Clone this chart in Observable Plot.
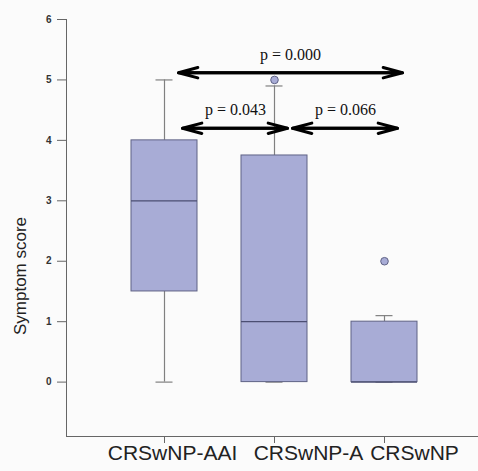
<!DOCTYPE html>
<html><head><meta charset="utf-8">
<script src="https://cdn.jsdelivr.net/npm/d3@7"></script>
<script src="https://cdn.jsdelivr.net/npm/@observablehq/plot@0.6"></script>
<style>
html,body{margin:0;padding:0;background:#fbfbfb;}
#chart svg{display:block;background:#fbfbfb;}
</style>
</head><body><div id="chart"></div>
<script>
// Categories and box-plot summaries
const groups = ["CRSwNP-AAI", "CRSwNP-A", "CRSwNP"];
const lowerWhisker = [0, 0, 0];
const q1 = [1.5, 0, 0];
const median = [3, 1, 0];
const q3 = [4, 3.75, 1];
const upperWhisker = [5, 4.9, 1.1];
// Outliers
const outlierGroup = ["CRSwNP-A", "CRSwNP"];
const outlierValue = [5, 2];
// Pairwise comparisons
const compFrom = ["CRSwNP-AAI", "CRSwNP-AAI", "CRSwNP-A"];
const compTo = ["CRSwNP", "CRSwNP-A", "CRSwNP"];
const compLabel = ["p = 0.000", "p = 0.043", "p = 0.066"];
const compLevel = [5.12, 4.2, 4.2];
// Axis
const yTicks = [0, 1, 2, 3, 4, 5, 6];
const yLabel = "Symptom score";

const boxes = groups.map((g, i) => ({group: g, lo: lowerWhisker[i], q1: q1[i], med: median[i], q3: q3[i], hi: upperWhisker[i]}));
const outliers = outlierGroup.map((g, i) => ({group: g, value: outlierValue[i]}));
const comps = compFrom.map((f, i) => ({from: f, to: compTo[i], label: compLabel[i], level: compLevel[i], span: groups.indexOf(compTo[i]) - groups.indexOf(f)}));

const fillC = "#a8acd6";
const edgeC = "#5f6285";
const whiskC = "#808080";
const step = 110;
const shift = 16;
const capInset = 24.5;
const catLabelShift = [8, 34, 30]; // category labels sit right of their ticks in the original
const sans = "Liberation Sans, Arial, sans-serif";

const longC = comps.filter(c => c.span === 2);
const shortC = comps.filter(c => c.span === 1);
const arrowOpts = {y: "level", stroke: "black", strokeWidth: 3, headLength: 10, headAngle: 30, dx: shift};

const chart = Plot.plot({
  width: 478,
  height: 471,
  marginLeft: 66,
  marginRight: 0,
  marginTop: 19,
  marginBottom: 35,
  style: {background: "#fbfbfb"},
  x: {type: "band", domain: groups, range: [109.3, 439.3], paddingInner: 0.4, paddingOuter: 0.2, label: null},
  y: {domain: [-0.9, 6], label: null},
  marks: [
    Plot.ruleY([-0.9], {stroke: "#666", strokeWidth: 1}),
    Plot.frame({anchor: "left", stroke: "#666"}),
    Plot.axisY({ticks: yTicks, tickFormat: "d", tickSize: 9, tickPadding: 6, fontSize: 10, fontWeight: "bold", fill: "#333", stroke: "#666", label: null, fontFamily: sans}),
    Plot.axisX({tickSize: 7, tickFormat: () => "", stroke: "#666", label: null}),
    ...groups.map((g, i) => Plot.text([g], {x: d => d, text: d => d, frameAnchor: "bottom", lineAnchor: "top", dy: 9, dx: catLabelShift[i], fontSize: 21, fill: "#222", fontFamily: sans})),
    Plot.text([yLabel], {frameAnchor: "left", textAnchor: "middle", rotate: -90, dx: -46, dy: 48, fontSize: 17, fill: "#222", fontFamily: sans}),
    // whiskers
    Plot.ruleX(boxes, {x: "group", y1: "lo", y2: "q1", stroke: whiskC, strokeWidth: 1.2}),
    Plot.ruleX(boxes, {x: "group", y1: "q3", y2: "hi", stroke: whiskC, strokeWidth: 1.2}),
    Plot.tickY(boxes, {x: "group", y: "hi", stroke: whiskC, strokeWidth: 1.2, insetLeft: capInset, insetRight: capInset}),
    Plot.tickY(boxes, {x: "group", y: "lo", stroke: whiskC, strokeWidth: 1.2, insetLeft: capInset, insetRight: capInset}),
    // boxes
    Plot.barY(boxes, {x: "group", y1: "q1", y2: "q3", fill: fillC, stroke: edgeC, strokeWidth: 1}),
    Plot.tickY(boxes, {x: "group", y: "med", stroke: "#4b4e72", strokeWidth: 1.2}),
    // outliers
    Plot.dot(outliers, {x: "group", y: "value", r: 3.8, fill: fillC, stroke: edgeC, strokeWidth: 1}),
    // comparison arrows (double-headed)
    Plot.arrow(longC, {...arrowOpts, x1: "from", x2: "to", insetStart: -2, insetEnd: -2}),
    Plot.arrow(longC, {...arrowOpts, x1: "to", x2: "from", insetStart: -2, insetEnd: -2}),
    Plot.arrow(shortC, {...arrowOpts, x1: "from", x2: "to", insetStart: 2, insetEnd: 3}),
    Plot.arrow(shortC, {...arrowOpts, x1: "to", x2: "from", insetStart: 3, insetEnd: 2}),
    // p-value labels
    ...comps.map(c => Plot.text([c], {x: "from", y: "level", text: "label", dx: shift + step * c.span / 2, dy: -18, fontSize: 16, fill: "#111", fontFamily: "Liberation Serif, Times New Roman, serif"}))
  ]
});
document.getElementById("chart").append(chart);
</script>
</body></html>
